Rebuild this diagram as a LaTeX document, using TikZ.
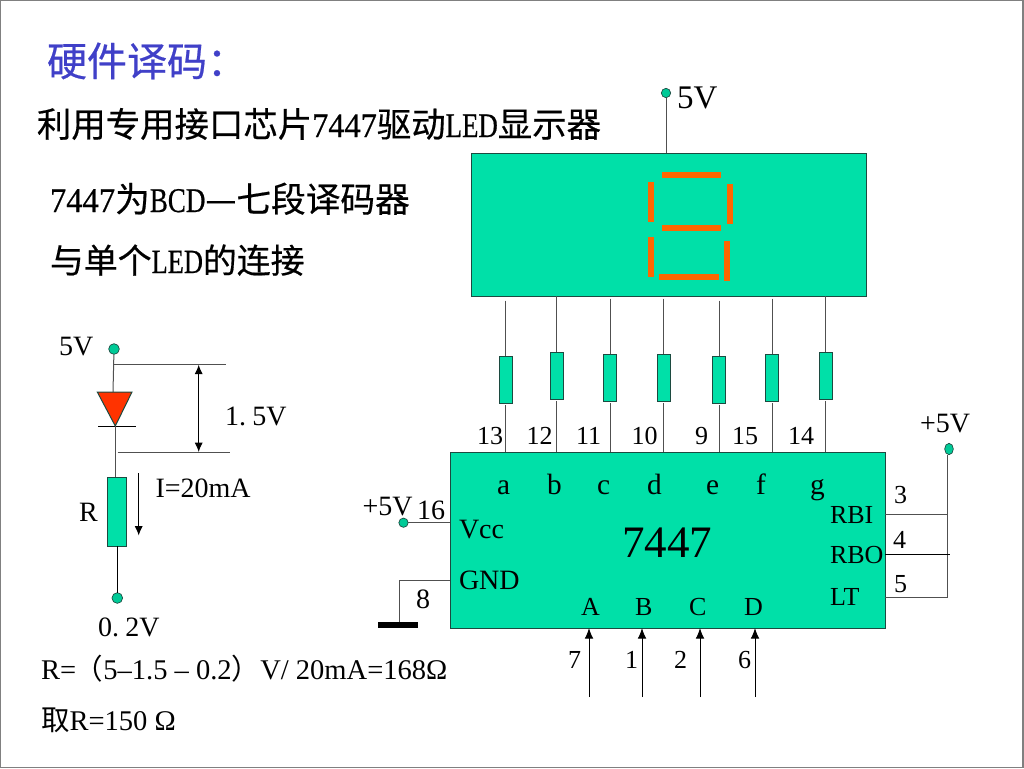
\documentclass[tikz,border=0pt]{standalone}
\usepackage{fontspec}
\usetikzlibrary{arrows.meta,shapes.geometric}
\setmainfont{Liberation Serif}
\newfontfamily\cjk{Noto Sans CJK SC}
\newfontfamily\cjkb[FakeBold=.5]{Noto Sans CJK SC}
\newfontfamily\hanlat[FakeStretch=.78,FakeBold=.5]{Liberation Serif}
\newfontfamily\handig[FakeStretch=.94,FakeBold=.5]{Liberation Serif}
\definecolor{chipgreen}{HTML}{00E0A8}
\definecolor{segorange}{HTML}{FF6600}
\definecolor{ledred}{HTML}{FF3300}
\definecolor{titleblue}{HTML}{4040C8}
\definecolor{wiregray}{HTML}{505050}
\definecolor{boxedge}{HTML}{1C4A40}
\tikzset{
	lbl/.style={anchor=base west,inner sep=0pt,outer sep=0pt},
	hanzi/.style={lbl,font=\fontsize{26}{30}\selectfont},
	big/.style={lbl,font=\fontsize{24.75}{30}\selectfont},
	mid/.style={lbl,font=\fontsize{21}{25}\selectfont},
	small/.style={lbl,font=\fontsize{19.5}{24}\selectfont},
	formula/.style={lbl,font=\fontsize{21.4}{25}\selectfont},
	wire/.style={wiregray,line width=.75pt},
	resist/.style={draw=boxedge,fill=chipgreen,line width=.75pt,inner sep=0pt,outer sep=0pt,minimum width=9.75pt,minimum height=35.25pt},
	chipbox/.style={draw=boxedge,fill=chipgreen,line width=.75pt,inner sep=0pt,outer sep=0pt},
	dot/.style={circle,draw=boxedge,fill=chipgreen!90!black,line width=.5pt,inner sep=0pt,outer sep=0pt,minimum size=7pt},
	arr/.style={-{Latex[length=8pt,width=6.5pt]},black,line width=.75pt},
}
\begin{document}
\begin{tikzpicture}[x=.75pt,y=-.75pt]
	\useasboundingbox (0,0) rectangle (1024,768);
	\draw[gray,line width=.9pt] (.5,.5) rectangle (1023,767.5);
	% headings
	\node[lbl,font=\fontsize{30}{36}\selectfont,text=titleblue] (title) at (47,76) {\cjkb 硬件译码：};
	\node[hanzi,font=\fontsize{25.8}{30}\selectfont] (linea) at (37,137) {\cjkb 利用专用接口芯片{\handig 7447}驱动{\hanlat LED}显示器};
	\node[hanzi] (lineb) at (50,212) {{\handig 7447}\cjkb 为{\hanlat BCD}—七段译码器};
	\node[hanzi,font=\fontsize{25.4}{30}\selectfont] (linec) at (50,273) {\cjkb 与单个{\hanlat LED}的连接};
	% display
	\node[chipbox,minimum width=296.25pt,minimum height=107.25pt] (disp) at (668.5,224.5) {};
	\node[dot] (vtop) at (666,93) {};
	\node[big] (vtoplbl) at (677,108) {5V};
	\draw[wire] (vtop) -- (vtop|-disp.north);
	\foreach \xa/\ya/\xb/\yb in {662/172/721/178,648/182/654/222,727/184/733/224,662/225/721/231,648/237/654/277,724/241/730/281,659/274/719/280}{
		\fill[segorange] (\xa,\ya) rectangle (\xb,\yb);
	}
	% chip
	\node[chipbox,minimum width=326.25pt,minimum height=132pt] (chip) at (667.5,540) {};
	\node[lbl,font=\fontsize{33.75}{40}\selectfont] (chipname) at (622,557) {7447};
	% resistors, wires and pins
	\foreach \seg/\x/\ytop/\yres/\pin/\lx/\letr/\letx in {a/505.5/300.7/379.8/13/477/a/497,b/556.8/296/375.5/12/526.5/b/547,c/610/298.7/377.5/11/576/c/597,d/663.5/298.7/377.5/10/631.5/d/647,e/719/300.7/379.8/9/695/e/706,f/772/298.7/377.5/15/732/f/756,g/825.5/296/375.5/14/788/g/810}{
		\coordinate (top\seg) at (\x,\ytop);
		\node[resist] (res\seg) at (\x,\yres) {};
		\draw[wire] (top\seg) -- (res\seg);
		\draw[wire,shorten <=1.5pt] (res\seg.south) -- (res\seg.south|-chip.north);
		\node[small] (pin\seg) at (\lx,444) {\pin};
		\node[mid,font=\fontsize{22}{26}\selectfont] (let\seg) at (\letx,494) {\letr};
	}
	% chip left side
	\node[dot] (vcc) at (403.5,522.7) {};
	\node[mid] (vcclbl) at (362.5,515) {+5V};
	\node[mid] (pinvcc) at (417,519) {16};
	\node[mid] (vccname) at (459,538) {Vcc};
	\node[mid] (gndname) at (459,589) {GND};
	\draw[wire] (vcc) -- (vcc-|chip.west);
	\coordinate (gndtop) at (399,580);
	\coordinate (gndin) at (gndtop-|chip.west);
	\node[fill=black,inner sep=0pt,outer sep=0pt,minimum width=30pt,minimum height=4.5pt] (gnd) at (398,625) {};
	\draw[wire] (gndin) -- (gndtop) -- (gndtop|-gnd.north);
	\node[mid] (pingnd) at (416,608) {8};
	% inputs
	\foreach \name/\x/\lx/\nx/\num in {A/589/581/568/7,B/642/635/625/1,C/700/689/674/2,D/755/744/738/6}{
		\coordinate (in\name) at (\x,697);
		\draw[arr] (in\name) -- (in\name|-chip.south);
		\node[small] (let\name) at (\lx,615) {\name};
		\node[small] (pin\name) at (\nx,668) {\num};
	}
	% chip right side
	\node[small] (rbi) at (830,523) {RBI};
	\node[small] (rbo) at (830,563.5) {RBO};
	\node[small] (lt) at (830,605) {LT};
	\node[small] (pinrbi) at (894,503.5) {3};
	\node[small] (pinrbo) at (893,548) {4};
	\node[small] (pinlt) at (894,592.5) {5};
	\node[draw=boxedge,fill=chipgreen!90!black,line width=.5pt,inner sep=0pt,outer sep=0pt,minimum width=6.5pt,minimum height=8.5pt,ellipse] (vright) at (949,449) {};
	\node[mid] (vrightlbl) at (920,432) {+5V};
	\coordinate (jrbi) at (947.3,514);
	\coordinate (jlt) at (947.3,597);
	\draw[wire] (jrbi-|chip.east) -- (jrbi);
	\draw[wire] (jlt-|chip.east) -- (jlt) -- (jlt|-vright.south);
	\coordinate (endrbo) at (949.5,554.3);
	\draw[black,line width=.75pt] (endrbo-|chip.east) -- (endrbo);
	% single led
	\node[dot,minimum size=8pt] (vled) at (114,349) {};
	\node[mid] (vledlbl) at (59,355) {5V};
	\coordinate (dioa) at (97.3,392);
	\coordinate (diob) at (132,392);
	\coordinate (dioc) at (115.3,426);
	\coordinate (dioin) at (113,392);
	\draw[wire] (vled) -- (dioin);
	\draw[fill=ledred,draw=boxedge,line width=.75pt] (dioa) -- (diob) -- (dioc) -- cycle;
	\coordinate (bara) at (98,426.3);
	\coordinate (barb) at (136.3,426.3);
	\draw[black,line width=.6pt] (bara) -- (barb);
	\node[resist,minimum width=14.25pt,minimum height=51.5pt] (rled) at (116.5,511.7) {};
	\draw[wire] (dioc) -- (dioc|-rled.north);
	\node[dot,minimum size=8pt] (vlow) at (117.3,598) {};
	\draw[black,line width=.75pt] (vlow|-rled.south) -- (vlow);
	\node[mid] (rlbl) at (79,521) {R};
	\node[mid] (vlowlbl) at (98,636) {0. \kern-2.25pt 2V};
	% dimension
	\coordinate (dimaL) at (113,364.7);
	\coordinate (dimaR) at (226,364.7);
	\coordinate (dimbL) at (117.7,452);
	\coordinate (dimbR) at (230.3,452);
	\draw[wire] (dimaL) -- (dimaR);
	\draw[wire] (dimbL) -- (dimbR);
	\coordinate (dima) at (198.7,364.7);
	\coordinate (dimb) at (198.7,452);
	\draw[{Latex[length=7pt,width=6pt]}-{Latex[length=7pt,width=6pt]},black,line width=.75pt] (dima) -- (dimb);
	\node[mid] (dimlbl) at (225,425) {1. \kern-2.25pt 5V};
	\coordinate (cura) at (138.7,473.3);
	\coordinate (curb) at (138.7,535.5);
	\draw[arr,-{Latex[length=7pt,width=6pt]}] (cura) -- (curb);
	\node[mid] (curlbl) at (155.5,497.7) {I=20mA};
	% formula
	\node[formula] (calc) at (41,679) {R=\kern-1pt{\cjk （}5–1.5 – 0.2{\cjk ）}V/ 20mA=168Ω};
	\node[formula] (pick) at (41,730) {{\cjk 取}R=150 Ω};
\end{tikzpicture}
\end{document}
